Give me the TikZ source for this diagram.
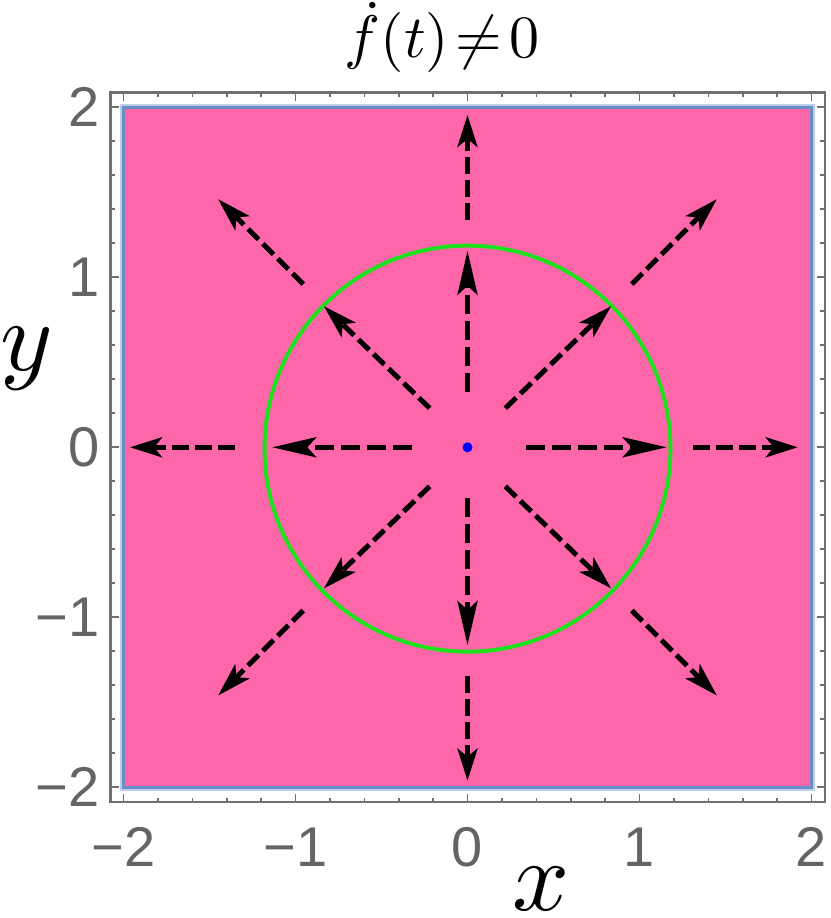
\documentclass[tikz,border=0pt]{standalone}
\usepackage{fontspec}
\newfontfamily\ticksfont{Liberation Sans}
\usetikzlibrary{arrows.meta}
\definecolor{pinkfill}{RGB}{254,102,170}
\definecolor{framegray}{RGB}{112,112,112}
\definecolor{ticklabel}{RGB}{100,100,100}
\definecolor{borderblue}{RGB}{106,142,200}
\definecolor{borderhalo}{RGB}{190,206,232}
\definecolor{circgreen}{RGB}{30,225,30}
\tikzset{
  arrowA/.style={line width=5pt, dash pattern=on 19pt off 7pt,
    -{Stealth[length=44pt,width=20pt,inset=9pt]}},
  arrowB/.style={line width=5pt, dash pattern=on 17pt off 6pt,
    -{Stealth[length=32pt,width=20pt,inset=8pt]}},
  arrowC/.style={line width=5pt, dash pattern=on 15pt off 6pt,
    -{Stealth[length=34pt,width=20pt,inset=8pt]}},
  tickline/.style={framegray, line width=1.6pt},
  ticklab/.style={inner sep=0pt, text=ticklabel, font=\ticksfont\fontsize{56}{60}\selectfont},
  axlab/.style={inner sep=0pt, scale=10},
}
\begin{document}
\begin{tikzpicture}[x=1pt,y=1pt]
\useasboundingbox (0,0) rectangle (830,918);
\begin{scope}[shift={(467.5pt,470.7pt)}, x=172pt, y=170pt]
  % pink region
  \draw[borderhalo, line width=7pt] (-2,-2) rectangle (2,2);
  \fill[pinkfill] (-2,-2) rectangle (2,2);
  \draw[borderblue, line width=3pt] (-2,-2) rectangle (2,2);
  % frame
  \draw[framegray, line width=2.4pt] (-2.075,-2.088) rectangle (2.078,2.086);
  % ticks
  \foreach \i in {0,...,20}{
    \pgfmathsetmacro\t{-2+0.2*\i}
    \pgfmathtruncatemacro\maj{mod(\i,5)==0}
    \ifnum\maj=1 \def\tl{8pt}\else\def\tl{4.5pt}\fi
    \draw[tickline] (\t,-2.088) -- ++(0pt,\tl);
    \draw[tickline] (\t,2.086) -- ++(0pt,-\tl);
    \draw[tickline] (-2.075,\t) -- ++(\tl,0pt);
    \draw[tickline] (2.078,\t) -- ++(-\tl,0pt);
  }
  % tick labels
  \foreach \v/\s in {-2/{−2},-1/{−1},0/0,1/1,2/2}{
    \node[ticklab] (bx\v) at (\v,-2.351) {\s};
    \node[ticklab, anchor=east] (ly\v) at (-2.14,\v) {\s};
  }
  % circle
  \draw[circgreen, line width=4pt] (0,-0.008) circle[radius=203pt];
  % inner axis arrows
  \draw[arrowA] (0.34,0) -- (1.158,0);
  \draw[arrowA] (-0.32,0) -- (-1.135,0);
  \draw[arrowA] (0,0.324) -- (0,1.156);
  \draw[arrowA] (0,-0.30) -- (0,-1.163);
  % outer axis arrows
  \draw[arrowB] (1.313,0) -- (1.92,0);
  \draw[arrowB] (-1.352,0) -- (-1.962,0);
  \draw[arrowB] (0,1.337) -- (0,1.955);
  \draw[arrowB] (0,-1.345) -- (0,-1.961);
  % diagonal arrows
  \foreach \sx/\sy in {1/1,-1/1,-1/-1,1/-1}{
    \draw[arrowC] (0.22*\sx,0.23*\sy) -- (0.835*\sx,0.83*\sy);
    \draw[arrowC] (0.955*\sx,0.96*\sy) -- (1.45*\sx,1.46*\sy);
  }
  % origin dot
  \fill[blue] (0,0) circle[radius=5pt];
\end{scope}
\node[axlab] (xlab) at (541,29) {$x$};
\node[axlab] (ylab) at (26.5,559) {$y$};
\node[inner sep=0pt, anchor=base, scale=6] (title) at (442,860)
  {$\thickmuskip=2mu \dot f(t)\neq 0$};
\end{tikzpicture}
\end{document}
